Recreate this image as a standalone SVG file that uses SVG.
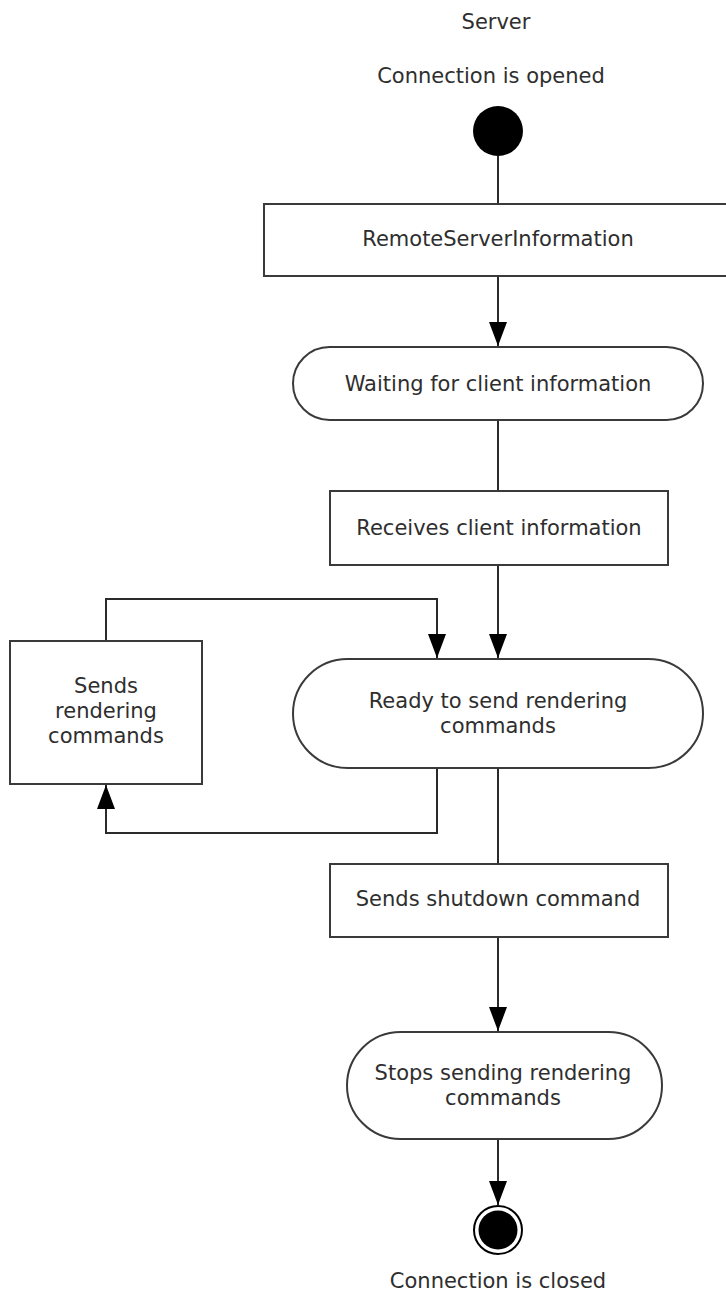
<svg xmlns="http://www.w3.org/2000/svg" width="726" height="1294" viewBox="0 0 726 1294">
<style>
.shape{fill:#fff;stroke:#3a3a3a;stroke-width:2}
.ln{fill:none;stroke:#2a2a2a;stroke-width:2}
text{font-family:"DejaVu Sans","Liberation Sans",sans-serif;font-size:21px;fill:#2e2e2e;text-anchor:middle}
</style>
<defs>
<marker id="arr" viewBox="0 0 24 18" refX="24" refY="9" markerWidth="24" markerHeight="18" markerUnits="userSpaceOnUse" orient="auto">
<path d="M0,0 L24,9 L0,18 z" fill="#000"/>
</marker>
</defs>
<rect width="726" height="1294" fill="#fff"/>
<g id="title"><text x="496" y="29">Server</text></g>
<g id="start">
<text x="491" y="83">Connection is opened</text>
<circle cx="498" cy="131" r="25" fill="#000"/>
</g>
<g id="connectors">
<line class="ln" x1="498" y1="156" x2="498" y2="204"/>
<line class="ln" x1="498" y1="276" x2="498" y2="346" marker-end="url(#arr)"/>
<line class="ln" x1="498" y1="420" x2="498" y2="491"/>
<line class="ln" x1="498" y1="565" x2="498" y2="658" marker-end="url(#arr)"/>
<polyline class="ln" points="106,641 106,599 437,599 437,658" marker-end="url(#arr)"/>
<polyline class="ln" points="437,766 437,833 106,833 106,785" marker-end="url(#arr)"/>
<line class="ln" x1="498" y1="768" x2="498" y2="864"/>
<line class="ln" x1="498" y1="937" x2="498" y2="1031" marker-end="url(#arr)"/>
<line class="ln" x1="498" y1="1139" x2="498" y2="1205" marker-end="url(#arr)"/>
</g>
<g id="remoteServerInformation">
<rect class="shape" x="264" y="204" width="472" height="72"/>
<text x="498" y="246">RemoteServerInformation</text>
</g>
<g id="waiting">
<rect class="shape" x="293" y="347" width="410" height="73" rx="36.5" ry="36.5"/>
<text x="498" y="391">Waiting for client information</text>
</g>
<g id="receives">
<rect class="shape" x="330" y="491" width="338" height="74"/>
<text x="499" y="535">Receives client information</text>
</g>
<g id="ready">
<rect class="shape" x="293" y="659" width="410" height="109" rx="54.5" ry="54.5"/>
<text x="498" y="708">Ready to send rendering</text>
<text x="498" y="733">commands</text>
</g>
<g id="sendsRendering">
<rect class="shape" x="10" y="641" width="192" height="143"/>
<text x="106" y="693">Sends</text>
<text x="106" y="718">rendering</text>
<text x="106" y="743">commands</text>
</g>
<g id="shutdown">
<rect class="shape" x="330" y="864" width="338" height="73"/>
<text x="498" y="906">Sends shutdown command</text>
</g>
<g id="stops">
<rect class="shape" x="347" y="1032" width="315" height="107" rx="53.5" ry="53.5"/>
<text x="503" y="1080">Stops sending rendering</text>
<text x="503" y="1105">commands</text>
</g>
<g id="end">
<circle cx="498" cy="1230" r="24" fill="#fff" stroke="#000" stroke-width="2"/>
<circle cx="498" cy="1230" r="19.5" fill="#000"/>
<text x="498" y="1288">Connection is closed</text>
</g>
</svg>
